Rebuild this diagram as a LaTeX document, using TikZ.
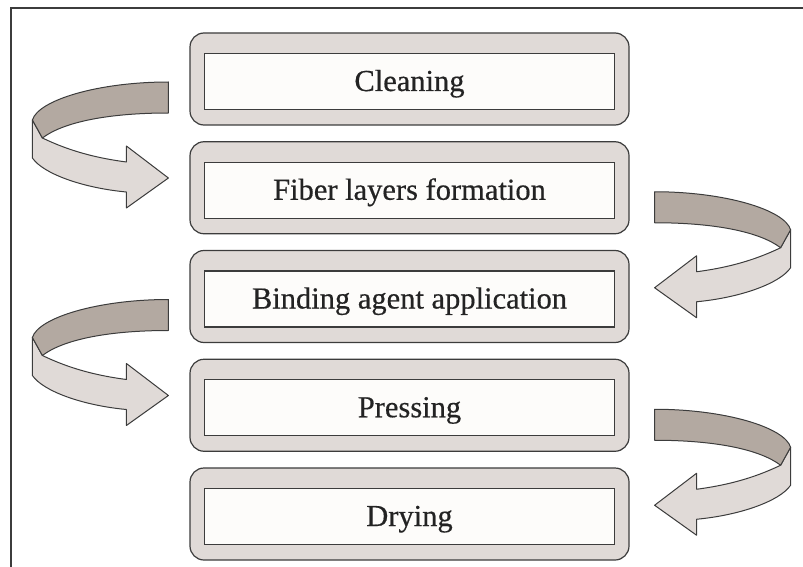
\documentclass[tikz,border=0pt]{standalone}
\usepackage{fontspec}
\setmainfont{Liberation Serif}[FakeBold=0.5]
\usetikzlibrary{calc}
\definecolor{linec}{RGB}{60,60,60}
\definecolor{boxfill}{RGB}{224,218,215}
\definecolor{innerfill}{RGB}{253,252,250}
\definecolor{darkc}{RGB}{179,169,161}
\definecolor{lightc}{RGB}{224,218,215}
\definecolor{textc}{RGB}{35,35,35}
\tikzset{
  outerbox/.style={draw=linec, line width=1.2pt, fill=boxfill, rounded corners=14pt,
    minimum width=439pt, minimum height=92pt, inner sep=0pt},
  innerbox/.style={draw=linec, line width=1.2pt, fill=innerfill,
    minimum width=410pt, minimum height=56pt, inner sep=0pt,
    text height=19pt, text depth=0pt, text=textc,
    font=\fontsize{30.5}{34}\selectfont},
  ribbonline/.style={draw=linec, line width=1pt, line join=round},
  ribbon/.pic={
    \path[ribbonline, fill=lightc] (-136,38) -- (-136,76)
      .. controls (-125,92) and (-85,106) .. (-42,110) -- (-42,126) -- (0,96)
      -- (-42,64) -- (-42,80) .. controls (-80,75) and (-105,66) .. (-126,56) -- cycle;
    \path[ribbonline, fill=darkc] (0,0) -- (0,31)
      .. controls (-60,31) and (-105,40) .. (-126,56) -- (-136,38)
      .. controls (-130,18) and (-70,0) .. (0,0) -- cycle;
  }
}
\begin{document}
\begin{tikzpicture}[x=1pt,y=-1pt]
\useasboundingbox (0,0) rectangle (803,567);
% frame
\coordinate (fb) at (11,567);
\coordinate (ft) at (11,8);
\coordinate (fr) at (803,8);
\draw[linec, line width=1.3pt] (fb) -- (ft) -- (fr);
% boxes
\node[outerbox] (b1) at (409.5,79) {};
\node[outerbox] (b2) at (409.5,187.75) {};
\node[outerbox] (b3) at (409.5,296.5) {};
\node[outerbox] (b4) at (409.5,405.25) {};
\node[outerbox] (b5) at (409.5,514) {};
\node[innerbox] (t1) at ($(b1.center)+(0,2.5)$) {Cleaning};
\node[innerbox] (t2) at ($(b2.center)+(0,2.5)$) {Fiber layers formation};
\node[innerbox] (t3) at ($(b3.center)+(0,2.5)$) {Binding agent application};
\node[innerbox] (t4) at ($(b4.center)+(0,2.5)$) {Pressing};
\node[innerbox] (t5) at ($(b5.center)+(0,2.5)$) {Drying};
% ribbon arrows
\pic at ($(b1.west)+(-21,3)$) {ribbon};
\pic[xscale=-1] at ($(b2.east)+(25,4)$) {ribbon};
\pic at ($(b3.west)+(-21,3)$) {ribbon};
\pic[xscale=-1] at ($(b4.east)+(25,4)$) {ribbon};
\end{tikzpicture}
\end{document}
